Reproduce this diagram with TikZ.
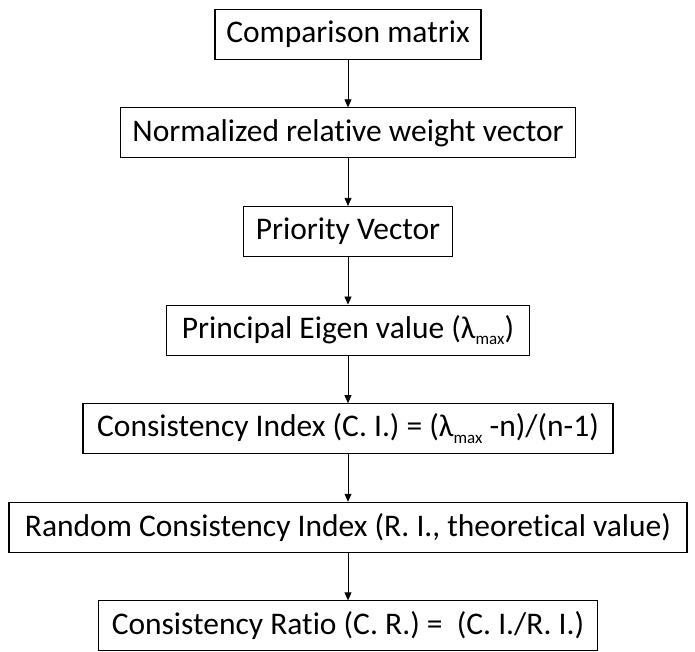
\documentclass[tikz,border=0pt]{standalone}
\usepackage{fontspec}
\setmainfont[Ligatures=NoCommon]{Carlito}
\usetikzlibrary{positioning, arrows.meta}
\newcommand{\lmax}{λ\raisebox{-0.45ex}{\fontsize{17}{20}\selectfont max}}
\tikzset{
  stepbox/.style = {
    rectangle, draw, line width=1.1pt,
    minimum height=50pt, inner sep=0pt,
    text centered, font=\fontsize{31.5}{34}\selectfont,
  },
  arrow/.style = {line width=0.8pt, -{Triangle[length=8pt, width=7pt]}},
}

\begin{document}
\begin{tikzpicture}[node distance=47.5pt]
    \useasboundingbox (0,0) rectangle (695pt,-652pt);
    % --- Nodes ---
    \node[stepbox, minimum width=266pt] (cmp) at (348pt,-34.3pt) {Comparison matrix};
    \node[stepbox, minimum width=455pt, below=of cmp]  (norm) {Normalized relative weight vector};
    \node[stepbox, minimum width=209pt, below=of norm] (prio) {Priority Vector};
    \node[stepbox, minimum width=363pt, below=of prio] (eig)  {Principal Eigen value (\lmax)};
    \node[stepbox, minimum width=530pt, below=of eig]  (ci)   {Consistency Index (C. I.) = (\lmax\ -n)/(n-1)};
    \node[stepbox, minimum width=678pt, below=of ci]   (ri)   {Random Consistency Index (R. I., theoretical value)};
    \node[stepbox, minimum width=499pt, below=of ri]   (cr)   {Consistency Ratio (C. R.) =~ (C. I./R. I.)};

    % --- Arrows ---
    \draw[arrow] (cmp)  -- (norm);
    \draw[arrow] (norm) -- (prio);
    \draw[arrow] (prio) -- (eig);
    \draw[arrow] (eig)  -- (ci);
    \draw[arrow] (ci)   -- (ri);
    \draw[arrow] (ri)   -- (cr);
\end{tikzpicture}
\end{document}
